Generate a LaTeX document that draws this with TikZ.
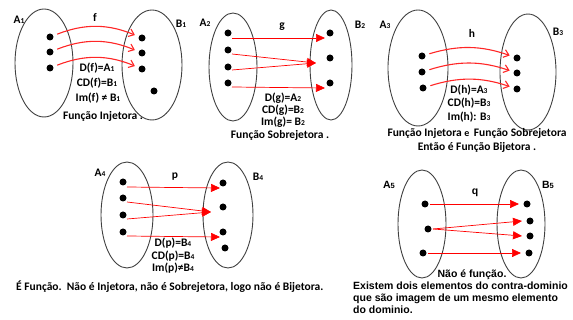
\documentclass[tikz,border=0pt]{standalone}
\usepackage{fontspec}
\setmainfont{Carlito}
\newfontfamily\arialf{Liberation Sans}
\usetikzlibrary{shapes.geometric,arrows.meta}
\newcommand\sbn[1]{{\fontsize{7.5}{8}\selectfont #1}}
\begin{document}
\begin{tikzpicture}[x=1pt,y=-1pt,
 ell/.style={draw=black!75, line width=0.9pt, ellipse, inner sep=0pt},
 dot/.style={circle, fill=black, inner sep=0pt, minimum size=7pt},
 lbl/.style={font=\bfseries\fontsize{11.5}{13}\selectfont, inner sep=0pt},
 albl/.style={font=\arialf\bfseries\fontsize{10.5}{12}\selectfont, inner sep=0pt},
 carrow/.style={draw=red!85, line width=1.1pt, -{Straight Barb[length=5pt,width=8pt]}, shorten >=4pt, shorten <=4pt},
 sarrow/.style={draw=red, line width=0.7pt, -{Triangle[length=9pt,width=8pt]}},
]
\useasboundingbox (0,0) rectangle (573,320);

% ---------- diagram 1 : f ----------
\node[ell, minimum width=58pt, minimum height=108pt] (A1) at (44,63) {};
\node[ell, minimum width=60pt, minimum height=110pt] (B1) at (152,65) {};
\node[dot] (fa1) at (50,37) {};
\node[dot] (fa2) at (50,52) {};
\node[dot] (fa3) at (50,68) {};
\node[dot] (fb1) at (142,38) {};
\node[dot] (fb2) at (142,53) {};
\node[dot] (fb3) at (142,69) {};
\node[dot] (fb4) at (154,91) {};
\draw[carrow] (fa1) to[bend left=22] (fb1);
\draw[carrow] (fa2) to[bend left=22] (fb2);
\draw[carrow] (fa3) to[bend left=22] (fb3);
\node[lbl] (lA1) at (19,20) {A\sbn{1}};
\node[lbl] (lB1) at (181,24) {B\sbn{1}};
\node[lbl] (lf) at (95,18) {f};
\node[lbl] (t1a) at (97,68) {D(f)=A\sbn{1}};
\node[lbl] (t1b) at (97,83) {CD(f)=B\sbn{1}};
\node[lbl] (t1c) at (98,98) {Im(f) ≠ B\sbn{1}};
\node[lbl] (t1d) at (103,116) {Função Injetora .};

% ---------- diagram 2 : g ----------
\node[ell, minimum width=48pt, minimum height=108pt] (A2) at (233,67) {};
\node[ell, minimum width=42pt, minimum height=110pt] (B2) at (331,65) {};
\node[dot] (ga1) at (228,33) {};
\node[dot] (ga2) at (228,50) {};
\node[dot] (ga3) at (228,67) {};
\node[dot] (ga4) at (228,83) {};
\node[dot] (gb1) at (330,33) {};
\node[dot] (gb2) at (330,58) {};
\node[dot] (gb3) at (330,83) {};
\draw[sarrow] ([xshift=4pt,yshift=-5pt]ga1.center) -- ([xshift=-5pt,yshift=-5pt]gb1.center);
\draw[sarrow] ([xshift=4pt,yshift=-4pt]ga2.center) -- ([xshift=-14pt,yshift=-5pt]gb2.center);
\draw[sarrow] ([xshift=4pt,yshift=-3pt]ga3.center) -- ([xshift=-14pt,yshift=-5pt]gb2.center);
\draw[sarrow] ([xshift=4pt,yshift=-4pt]ga4.center) -- ([xshift=-5pt,yshift=-5pt]gb3.center);
\node[lbl] (lA2) at (205,23) {A\sbn{2}};
\node[lbl] (lB2) at (360,25) {B\sbn{2}};
\node[lbl] (lg) at (282,27) {g};
\node[lbl] (t2a) at (283,98) {D(g)=A\sbn{2}};
\node[lbl] (t2b) at (283,110) {CD(g)=B\sbn{2}};
\node[lbl] (t2c) at (283,122) {Im(g)= B\sbn{2}};
\node[lbl] (t2d) at (280,135) {Função Sobrejetora .};

% ---------- diagram 3 : h ----------
\node[ell, minimum width=60pt, minimum height=116pt] (A3) at (418,68) {};
\node[ell, minimum width=56pt, minimum height=116pt] (B3) at (528,72) {};
\node[dot] (ha1) at (422,56) {};
\node[dot] (ha2) at (422,72) {};
\node[dot] (ha3) at (423,88) {};
\node[dot] (hb1) at (517,58) {};
\node[dot] (hb2) at (517,73) {};
\node[dot] (hb3) at (517,89) {};
\draw[carrow] (ha1) to[bend left=18] (hb1);
\draw[carrow] (ha2) to[bend left=18] (hb2);
\draw[carrow] (ha3) to[bend left=18] (hb3);
\node[lbl] (lA3) at (385,25) {A\sbn{3}};
\node[lbl] (lB3) at (558,32) {B\sbn{3}};
\node[lbl] (lh) at (472,33) {h};
\node[lbl] (t3a) at (469,90) {D(h)=A\sbn{3}};
\node[lbl] (t3b) at (469,103) {CD(h)=B\sbn{3}};
\node[lbl] (t3c) at (469,117) {Im(h): B\sbn{3}};
\node[lbl] (t3d) at (477,133) {Função Injetora {\fontsize{10}{12}\selectfont e}\, Função Sobrejetora};
\node[lbl] (t3e) at (477,147) {Então é Função Bijetora .};

% ---------- diagram 4 : p ----------
\node[ell, minimum width=52pt, minimum height=106pt] (A4) at (127,215) {};
\node[ell, minimum width=50pt, minimum height=106pt] (B4) at (228,215) {};
\node[dot] (pa1) at (123,182) {};
\node[dot] (pa2) at (123,198) {};
\node[dot] (pa3) at (123,215) {};
\node[dot] (pa4) at (123,232) {};
\node[dot] (pb1) at (223,183) {};
\node[dot] (pb2) at (223,207) {};
\node[dot] (pb3) at (223,232) {};
\node[dot] (pb4) at (225,248) {};
\draw[sarrow] ([xshift=4pt,yshift=-5pt]pa1.center) -- ([xshift=-3pt,yshift=-5pt]pb1.center);
\draw[sarrow] ([xshift=4pt,yshift=-4pt]pa2.center) -- ([xshift=-12pt,yshift=-5pt]pb2.center);
\draw[sarrow] ([xshift=4pt,yshift=-4pt]pa3.center) -- ([xshift=-12pt,yshift=-5pt]pb2.center);
\draw[sarrow] ([xshift=4pt,yshift=-4pt]pa4.center) -- ([xshift=-3pt,yshift=-5pt]pb3.center);
\node[lbl] (lA4) at (100,173) {A\sbn{4}};
\node[lbl] (lB4) at (258,177) {B\sbn{4}};
\node[lbl] (lp) at (175,177) {p};
\node[lbl] (t4a) at (173,243) {D(p)=B\sbn{4}};
\node[lbl] (t4b) at (173,256) {CD(p)=B\sbn{4}};
\node[lbl] (t4c) at (173,268) {Im(p)≠B\sbn{4}};
\node[lbl, anchor=west] (t4d) at (16,287) {É Função.\ \ Não é Injetora, não é Sobrejetora, logo não é Bijetora.};

% ---------- diagram 5 : q ----------
\node[ell, minimum width=48pt, minimum height=108pt] (A5) at (422,224) {};
\node[ell, minimum width=48pt, minimum height=108pt] (B5) at (521,224) {};
\node[dot] (qa1) at (425,204) {};
\node[dot] (qa2) at (428,229) {};
\node[dot] (qa3) at (423,253) {};
\node[dot] (qb1) at (527,204) {};
\node[dot] (qb2) at (530,221) {};
\node[dot] (qb3) at (530,236) {};
\node[dot] (qb4) at (529,253) {};
\draw[sarrow] ([xshift=5pt]qa1.center) -- ([xshift=-8pt]qb1.center);
\draw[sarrow] ([xshift=5pt]qa2.center) -- ([xshift=-8pt]qb2.center);
\draw[sarrow] ([xshift=5pt]qa2.center) -- ([xshift=-8pt]qb3.center);
\draw[sarrow] ([xshift=5pt]qa3.center) -- ([xshift=-8pt]qb4.center);
\node[albl] (lA5) at (389,185) {A\sbn{5}};
\node[albl] (lB5) at (548,185) {B\sbn{5}};
\node[albl] (lq) at (475,193) {q};
\node[albl, fill=white, inner sep=1pt] (t5a) at (472,275) {Não é função.};
\node[albl, anchor=north west, align=left, font=\arialf\bfseries\fontsize{10.5}{12}\selectfont] (t5b) at (353,282) {Existem dois elementos do contra-dominio\\que são imagem de um mesmo elemento\\do dominio.};
\end{tikzpicture}
\end{document}
